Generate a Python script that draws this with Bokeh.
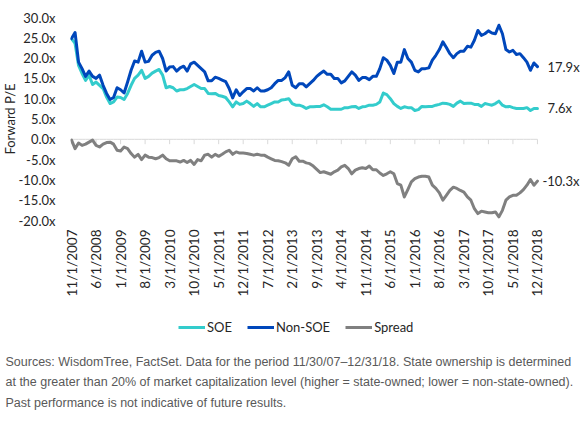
import math
from bokeh.plotting import figure
from bokeh.models import Legend, LegendItem, FixedTicker, Title
from bokeh.core.properties import value
from bokeh.embed import file_html
from bokeh.resources import INLINE

# ---------------- data (monthly, 11/2007 .. 12/2018) ----------------
months = list(range(134))  # month index starting 11/1/2007

soe = [
    24.8, 23.6, 18.2, 16.2, 14.5, 15.8, 13.5, 14.1, 13.3, 12.5,
    10.4, 8.8, 9.2, 10.4, 10.3, 9.8, 11.3, 13.3, 15.0, 15.8,
    17.0, 15.0, 15.5, 16.3, 16.8, 17.2, 15.8, 12.7, 13.0, 12.7,
    11.9, 12.2, 12.2, 12.5, 13.0, 13.5, 13.0, 12.5, 12.5, 11.3,
    11.2, 11.3, 10.8, 10.6, 10.3, 9.2, 8.0, 9.2, 8.6, 8.8,
    9.4, 8.8, 8.1, 8.8, 8.0, 8.0, 8.4, 8.8, 9.2, 9.2,
    9.7, 9.8, 10.0, 8.8, 8.4, 8.4, 8.1, 7.6, 8.0, 8.0,
    8.1, 8.1, 8.5, 8.0, 7.4, 7.4, 7.4, 7.4, 7.8, 7.8,
    8.0, 8.1, 7.6, 8.0, 8.1, 8.4, 8.4, 8.6, 9.2, 11.4,
    11.0, 10.0, 8.8, 8.1, 7.6, 8.0, 7.8, 7.8, 7.1, 7.3,
    8.1, 8.0, 8.1, 8.1, 8.4, 8.6, 8.9, 8.8, 8.6, 8.1,
    8.9, 9.4, 8.8, 8.9, 8.9, 8.6, 8.6, 8.1, 8.8, 8.6,
    8.4, 8.8, 9.4, 8.4, 8.0, 8.1, 7.8, 7.6, 7.6, 7.6,
    7.8, 7.1, 7.6, 7.6,
]

non_soe = [
    24.8, 26.3, 19.0, 17.4, 15.5, 16.8, 15.5, 15.0, 15.8, 13.3,
    11.3, 9.8, 10.3, 12.7, 12.2, 11.4, 14.1, 17.0, 19.3, 19.0,
    21.7, 19.0, 19.2, 20.7, 21.4, 21.7, 19.9, 16.8, 17.8, 17.9,
    16.8, 17.6, 18.0, 16.8, 18.6, 19.0, 18.2, 17.4, 16.6, 14.4,
    14.4, 15.3, 15.0, 14.6, 14.2, 12.5, 10.2, 12.2, 10.8, 11.7,
    12.5, 12.5, 11.9, 12.7, 11.9, 11.9, 12.2, 12.7, 13.7, 14.5,
    14.5, 15.2, 16.6, 13.3, 12.7, 13.7, 13.7, 12.9, 13.7, 14.5,
    15.5, 16.2, 16.8, 16.0, 16.0, 15.0, 15.0, 13.9, 14.4, 15.5,
    16.6, 15.8, 14.5, 15.2, 15.2, 14.7, 15.5, 15.5, 17.4, 20.1,
    19.5, 18.2, 16.2, 19.0, 19.0, 22.1, 19.9, 19.0, 17.0, 16.6,
    17.4, 17.4, 17.6, 19.5, 20.7, 22.1, 24.0, 22.6, 21.1, 20.1,
    21.1, 21.7, 21.7, 22.9, 22.7, 24.4, 26.8, 25.6, 26.0, 26.7,
    26.2, 26.0, 28.1, 26.0, 22.1, 21.5, 21.9, 20.9, 21.1, 20.1,
    19.0, 17.0, 18.8, 17.9,
]

spread = [
    -0.2, -2.3, -0.9, -1.5, -1.2, -0.7, -0.2, -1.5, -1.9, -1.2,
    -0.8, -0.7, -1.2, -2.7, -2.9, -1.9, -2.3, -3.5, -4.4, -3.7,
    -5.0, -3.9, -4.4, -4.5, -4.8, -4.5, -3.9, -4.8, -5.3, -5.3,
    -5.3, -5.6, -5.2, -5.7, -5.2, -6.2, -5.0, -5.3, -3.9, -3.7,
    -4.4, -3.7, -4.2, -3.7, -3.1, -2.7, -3.7, -3.1, -3.4, -3.4,
    -3.5, -3.7, -3.9, -3.7, -3.9, -3.9, -4.4, -4.8, -5.2, -5.3,
    -5.5, -5.8, -6.4, -4.8, -4.3, -5.4, -5.4, -5.8, -6.0, -6.6,
    -7.4, -8.2, -8.0, -8.3, -8.6, -8.0, -7.6, -6.8, -6.4, -7.2,
    -8.5, -7.6, -7.2, -7.0, -7.2, -6.6, -7.5, -7.5, -8.3, -8.9,
    -8.5, -8.0, -8.5, -10.9, -11.3, -14.2, -12.4, -10.5, -9.7, -9.3,
    -9.1, -9.1, -9.3, -11.3, -12.1, -13.2, -15.0, -13.8, -12.6, -11.8,
    -12.1, -12.6, -13.0, -14.2, -15.0, -17.1, -18.3, -17.7, -17.9, -18.1,
    -18.1, -17.9, -19.1, -17.5, -15.0, -14.2, -13.8, -13.8, -13.2, -12.4,
    -11.3, -9.9, -11.3, -10.3,
]

tick_idx = list(range(0, 134, 7))
tick_labels = [
    "11/1/2007", "6/1/2008", "1/1/2009", "8/1/2009", "3/1/2010",
    "10/1/2010", "5/1/2011", "12/1/2011", "7/1/2012", "2/1/2013",
    "9/1/2013", "4/1/2014", "11/1/2014", "6/1/2015", "1/1/2016",
    "8/1/2016", "3/1/2017", "10/1/2017", "5/1/2018", "12/1/2018",
]
y_ticks = [-20, -15, -10, -5, 0, 5, 10, 15, 20, 25, 30]

series_names = ["SOE", "Non-SOE", "Spread"]
series_colors = ["#33CCCC", "#0047BB", "#808080"]

footnote = [
    "Sources: WisdomTree, FactSet. Data for the period 11/30/07\u201312/31/18. State ownership is determined",
    "at the greater than 20% of market capitalization level (higher = state-owned; lower = non-state-owned).",
    "Past performance is not indicative of future results.",
]

# ---------------- main chart ----------------
FONT = "Lato"
TXT = "#262626"
PX_PER_MONTH = 3.503
X0 = -0.3
X1 = X0 + 511 / PX_PER_MONTH   # frame reaches the right edge so end labels fit
Y0, Y1 = -20, 30

p = figure(
    width=581, height=300,
    x_range=(X0, X1), y_range=(Y0, Y1),
    output_backend="svg", toolbar_location=None,
    min_border_left=70, min_border_right=0,
    min_border_top=17, min_border_bottom=80,
    background_fill_color="white", border_fill_color="white",
)
p.outline_line_color = None
p.xgrid.visible = False
p.ygrid.visible = False

xa = p.xaxis[0]
xa.ticker = FixedTicker(ticks=tick_idx)
xa.major_label_overrides = {t: l for t, l in zip(tick_idx, tick_labels)}
xa.major_label_orientation = math.pi / 2
xa.axis_line_color = None
xa.major_tick_line_color = None
xa.minor_tick_line_color = None
xa.major_tick_out = 0
xa.major_tick_in = 0
xa.major_label_standoff = 9
xa.major_label_text_font = FONT
xa.major_label_text_font_size = "13.5px"
xa.major_label_text_color = TXT

ya = p.yaxis[0]
ya.ticker = FixedTicker(ticks=y_ticks)
ya.major_label_overrides = {t: f"{t:.1f}x" for t in y_ticks}
ya.axis_line_color = None
ya.major_tick_line_color = None
ya.minor_tick_line_color = None
ya.major_tick_out = 0
ya.major_tick_in = 0
ya.major_label_standoff = 15
ya.major_label_text_font = FONT
ya.major_label_text_font_size = "13px"
ya.major_label_text_color = TXT

p.add_layout(Title(text="Forward P/E", align="center", offset=-16, standoff=-5,
                   text_font=FONT, text_font_size="13px", text_color=TXT,
                   text_font_style="normal"), "left")

# category axis line crossing at zero, with tick marks
p.line(months, [0] * len(months), line_color="#d9d9d9", line_width=1, level="underlay")
p.segment(x0=tick_idx, y0=[0] * len(tick_idx), x1=tick_idx, y1=[-1.2] * len(tick_idx),
          line_color="#d9d9d9", line_width=1, level="underlay")

for ys, c in zip([soe, non_soe, spread], series_colors):
    p.line(months, ys, line_color=c, line_width=3, line_join="round", line_cap="round")

last = len(months) - 1
p.text(x=[months[last]] * 3, y=[soe[last], non_soe[last], spread[last]],
       text=[f"{v:.1f}x" for v in (soe[last], non_soe[last], spread[last])],
       x_offset=[10, 10, 5], text_align="left", text_baseline="middle",
       text_font=value(FONT), text_font_size="13px", text_color=TXT)

# ---------------- legend + footnote strip (separate root, stacked below) ----------------
q = figure(
    width=581, height=121, x_range=(0, 581), y_range=(0, 121),
    output_backend="svg", toolbar_location=None,
    x_axis_location=None, y_axis_location=None,
    min_border_left=0, min_border_right=0, min_border_top=0, min_border_bottom=0,
    background_fill_color="white", border_fill_color="white",
)
q.grid.visible = False
q.outline_line_color = None

nan = float("nan")
legend_renderers = [q.line([nan], [nan], line_color=c, line_width=3) for c in series_colors]
legend = Legend(
    items=[LegendItem(label=n, renderers=[r]) for n, r in zip(series_names, legend_renderers)],
    orientation="horizontal", location=(178, 84),
    label_text_font=FONT, label_text_font_size="13px", label_text_color=TXT,
    glyph_width=27, glyph_height=20, label_standoff=2, spacing=15,
    padding=5, margin=0, border_line_color=None, background_fill_alpha=0,
)
q.add_layout(legend, "center")

q.text(x=[5, 5, 5], y=[60, 39.5, 19], text=footnote,
       text_align="left", text_baseline="middle",
       text_font=value("Liberation Sans"), text_font_size="12.5px", text_color="#595959")

open("out.html", "w").write(file_html([p, q], INLINE))
